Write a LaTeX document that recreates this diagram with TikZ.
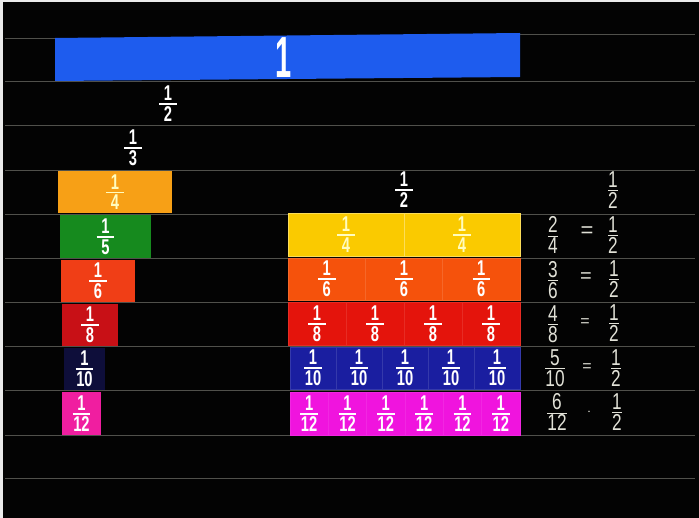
\documentclass[tikz,border=0pt]{standalone}
\usepackage{fontspec}
\usepackage{amsmath}
\setmainfont{Liberation Sans}
\definecolor{bgblack}{RGB}{3,3,3}
\definecolor{shelf}{RGB}{80,80,75}
\definecolor{cblue}{RGB}{30,92,238}
\definecolor{corange}{RGB}{247,160,22}
\definecolor{cgreen}{RGB}{22,138,30}
\definecolor{credor}{RGB}{240,62,22}
\definecolor{cdred}{RGB}{200,16,22}
\definecolor{cnavy}{RGB}{14,14,58}
\definecolor{cpink}{RGB}{240,30,160}
\definecolor{cyellow}{RGB}{250,202,0}
\definecolor{corange2}{RGB}{245,82,12}
\definecolor{cred2}{RGB}{228,20,12}
\definecolor{cblue2}{RGB}{26,30,160}
\definecolor{cmag}{RGB}{240,20,222}
\definecolor{chalk}{RGB}{225,225,215}
\newcommand{\fr}[2]{\scalebox{0.64}[0.93]{\fontsize{23}{23}\selectfont$\genfrac{}{}{1.8pt}{1}{\makebox[1.2em]{\bfseries #1}}{\makebox[1.2em]{\bfseries #2}}$}}
\newcommand{\hfr}[2]{\scalebox{0.75}[1]{\fontsize{23}{23}\selectfont$\genfrac{}{}{1pt}{1}{\mbox{#1}}{\mbox{#2}}$}}
\tikzset{
  tile/.style={rectangle, inner sep=0pt, outer sep=0pt, text=white, anchor=center},
  pale/.style={text=white!75!yellow},
  hand/.style={text=chalk, inner sep=0pt},
  lbl/.style={text=white, inner sep=0pt},
  shelfline/.style={draw=shelf, line width=0.8pt}
}
\begin{document}
\begin{tikzpicture}[x=1pt,y=-1pt]
\useasboundingbox (0,0) rectangle (699,518);
\fill[bgblack] (0,0) rectangle (699,518);
\fill[white!85!gray] (0,0) rectangle (3,518);
\fill[white!85!gray] (0,0) rectangle (699,2);
% shelf lines
\foreach \yy in {81,125,170,214,258,302,346,390,435,478}
  \draw[shelfline] (5,\yy) -- (695,\yy);
\draw[shelfline] (5,38) -- (55,38);
\draw[shelfline] (520,34) -- (695,34);
% whole bar
\fill[cblue] (55,38) -- (520,33) -- (520,77) -- (55,81) -- cycle;
\node[lbl] (one) at (284,58) {\scalebox{0.5}[1]{\fontsize{58}{58}\selectfont\bfseries 1}};
% labels
\node[lbl] (half) at (168,104) {\fr12};
\node[lbl] (third) at (133,148) {\fr13};
% left column
\node[tile, pale, fill=corange, minimum width=114pt, minimum height=42pt] (l4) at (115,192) {\fr14};
\node[tile, fill=cgreen, minimum width=91pt, minimum height=43pt] (l5) at (105.5,236.5) {\fr15};
\node[tile, fill=credor, minimum width=74pt, minimum height=42pt] (l6) at (98,281) {\fr16};
\node[tile, fill=cdred, minimum width=56pt, minimum height=42pt] (l8) at (90,325) {\fr18};
\node[tile, fill=cnavy, minimum width=41pt, minimum height=42pt] (l10) at (84.5,369) {\fr1{10}};
\node[tile, fill=cpink, minimum width=39pt, minimum height=43pt] (l12) at (81.5,413.5) {\fr1{12}};
% right group
\node[lbl] (rhalf) at (404,190) {\fr12};
\node[hand] (hhalf) at (613,190) {\hfr12};
% quarters
\foreach \i in {0,1}
  \node[tile, pale, fill=cyellow, minimum width=116pt, minimum height=43pt, draw=white!35!cyellow, line width=0.4pt] (q\i) at ({288+116*\i+58},234.5) {\fr14};
% sixths
\foreach \i in {0,1,2}
  \node[tile, fill=corange2, minimum width=77.33pt, minimum height=42pt, draw=white!12!corange2, line width=0.4pt] (s\i) at ({288+77.33*\i+38.67},279) {\fr16};
% eighths
\foreach \i in {0,...,3}
  \node[tile, fill=cred2, minimum width=58pt, minimum height=43pt, draw=white!10!cred2, line width=0.4pt] (e\i) at ({288+58*\i+29},323.5) {\fr18};
% tenths
\foreach \i in {0,...,4}
  \node[tile, fill=cblue2, minimum width=46pt, minimum height=42pt, draw=white!12!cblue2, line width=0.4pt] (t\i) at ({290+46*\i+23},368) {\fr1{10}};
% twelfths
\foreach \i in {0,...,5}
  \node[tile, fill=cmag, minimum width=38.33pt, minimum height=43pt, draw=white!8!cmag, line width=0.4pt] (w\i) at ({290+38.33*\i+19.17},413.5) {\fr1{12}};
% handwritten equations
\node[hand] (a1) at (553,235) {\hfr24};
\node[hand] (b1) at (587,232) {\fontsize{22}{22}\selectfont =};
\node[hand] (c1) at (613,235) {\hfr12};
\node[hand] (a2) at (553,280) {\hfr36};
\node[hand] (b2) at (586,278) {\fontsize{20}{20}\selectfont =};
\node[hand] (c2) at (614,279) {\hfr12};
\node[hand] (a3) at (553,324) {\hfr48};
\node[hand] (b3) at (585,323) {\fontsize{16}{16}\selectfont =};
\node[hand] (c3) at (614,323) {\hfr12};
\node[hand] (a4) at (555,368) {\hfr5{10}};
\node[hand] (b4) at (587,368) {\fontsize{16}{16}\selectfont =};
\node[hand] (c4) at (616,368) {\hfr12};
\node[hand] (a5) at (557,412) {\hfr6{12}};
\node[hand] (b5) at (589,412) {\fontsize{14}{14}\selectfont $\cdot$};
\node[hand] (c5) at (617,412) {\hfr12};
\end{tikzpicture}
\end{document}
